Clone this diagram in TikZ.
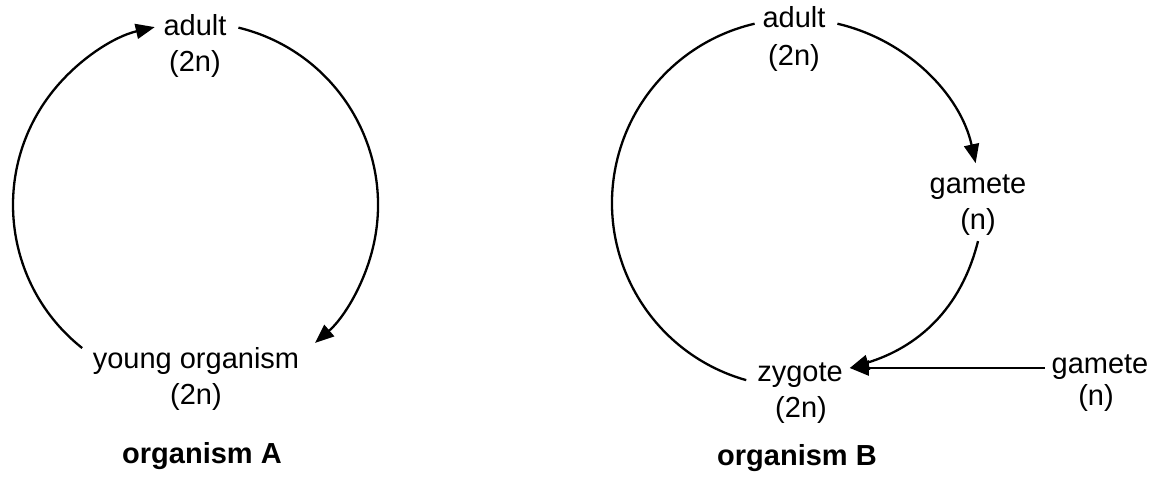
\documentclass[tikz,border=0pt]{standalone}
\usepackage{fontspec}
\setmainfont{Liberation Sans}
\usetikzlibrary{arrows.meta}
\tikzset{
  lbl/.style={anchor=base, font=\fontsize{14.5}{17}\selectfont, text height=0.75em, text depth=0.25em},
  ttl/.style={anchor=base, font=\fontsize{14.5}{17}\selectfont\bfseries},
  flow/.style={line width=1.15pt, -{Triangle[length=9.5pt,width=7.5pt]}},
  plain/.style={line width=1.15pt}
}
\begin{document}
\begin{tikzpicture}[x=0.5pt,y=0.5pt]
\useasboundingbox (0,0) rectangle (1161,-482);
% organism A
\coordinate (cA) at (195.5,-205);
\node[lbl] (adultA) at (195,-35) {adult};
\node[lbl] (adultAn) at (195,-71) {(2n)};
\node[lbl] (young) at (196,-368) {young organism};
\node[lbl] (youngn) at (196,-404) {(2n)};
\node[ttl] (orgA) at (202,-463) {organism A};
\draw[flow] ([shift={(-128.4:91.25pt)}]cA) arc[start angle=-128.4, end angle=-257.1, radius=91.25pt];
\draw[flow] ([shift={(76.4:91.25pt)}]cA) arc[start angle=76.4, end angle=-49.1, radius=91.25pt];
% organism B
\coordinate (cB) at (796,-203);
\node[lbl] (adultB) at (794,-27) {adult};
\node[lbl] (adultBn) at (794,-65) {(2n)};
\node[lbl] (gamB) at (978,-193) {gamete};
\node[lbl] (gamBn) at (978,-229) {(n)};
\node[lbl] (zyg) at (800,-381) {zygote};
\node[lbl] (zygn) at (801,-417) {(2n)};
\node[lbl] (gam2) at (1100,-373) {gamete};
\node[lbl] (gam2n) at (1096,-405) {(n)};
\node[ttl] (orgB) at (797,-465) {organism B};
\coordinate (meet) at (zyg.east |- gam2.west);
\draw[plain] ([shift={(-105.7:92pt)}]cB) arc[start angle=-105.7, end angle=-257, radius=92pt];
\draw[flow] ([shift={(77:92pt)}]cB) arc[start angle=77, end angle=12.5, radius=92pt];
\draw[flow] (gamBn.south) to[out=256, in=17] (meet);
\draw[flow] (gam2.west) -- (meet);
\end{tikzpicture}
\end{document}
